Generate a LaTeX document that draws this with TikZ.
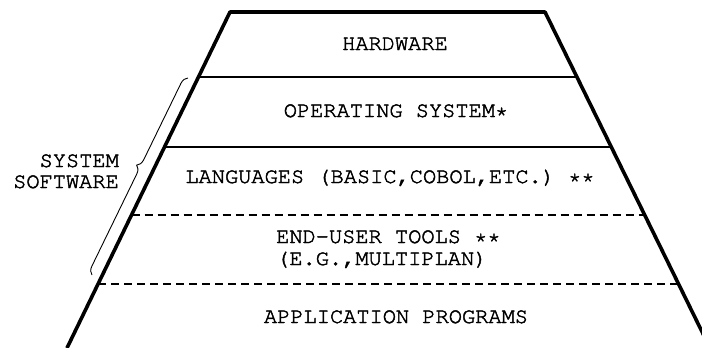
\documentclass[tikz,border=0pt]{standalone}
\usepackage[T1]{fontenc}
\usepackage{courier}
\usetikzlibrary{decorations.pathreplacing,calc}
\newcommand{\heavytext}[1]{\special{pdf:literal direct 2 Tr 0.45 w}#1\special{pdf:literal direct 0 Tr}}
\begin{document}
\begin{tikzpicture}[x=1pt,y=-1pt,
  side/.style={line width=3.6pt, line join=round},
  solidrule/.style={line width=1.1pt},
  dashrule/.style={line width=1.2pt, dash pattern=on 8pt off 5pt},
  lbl/.style={font=\fontsize{22}{23}\selectfont\ttfamily, inner sep=0pt},
  bracestyle/.style={line width=0.9pt, decorate,
    decoration={brace, amplitude=8pt, aspect=0.54}}]
\useasboundingbox (0,0) rectangle (702,348);
% trapezoid corners
\coordinate (TL) at (230,12);
\coordinate (TR) at (545,12);
\coordinate (BL) at (67,348);
\coordinate (BR) at (710,348);
\draw[side] (BL) -- (TL) -- (TR) -- (BR);
% layer boundaries
\coordinate (L1) at ($(TL)!0.1935!(BL)$);
\coordinate (R1) at ($(TR)!0.1935!(BR)$);
\coordinate (L2) at ($(TL)!0.4018!(BL)$);
\coordinate (R2) at ($(TR)!0.4018!(BR)$);
\coordinate (L3) at ($(TL)!0.6042!(BL)$);
\coordinate (R3) at ($(TR)!0.6042!(BR)$);
\coordinate (L4) at ($(TL)!0.8095!(BL)$);
\coordinate (R4) at ($(TR)!0.8095!(BR)$);
\draw[solidrule] (L1) -- (R1);
\draw[solidrule] (L2) -- (R2);
\draw[dashrule] (L3) -- (R3);
\draw[dashrule] (L4) -- (R4);
% labels
\node[lbl, anchor=base] (hw) at (395,50) {\heavytext{HARDWARE}};
\node[lbl, anchor=base] (os) at (396,117) {\heavytext{OPERATING SYSTEM*}};
\node[lbl, anchor=base] (lang) at (390,183) {\heavytext{LANGUAGES (BASIC,COBOL,ETC.) **}};
\node[lbl, anchor=base west] (eu1) at (276,243) {\heavytext{END-USER TOOLS **}};
\node[lbl, anchor=base west] (eu2) at (276,265) {\heavytext{(E.G.,MULTIPLAN)}};
\node[lbl, anchor=base] (app) at (396,323) {\heavytext{APPLICATION PROGRAMS}};
\node[lbl, anchor=base east] (sys1) at (119,167) {\heavytext{SYSTEM}};
\node[lbl, anchor=base east] (sys2) at (119,188) {\heavytext{SOFTWARE}};
% brace
\coordinate (bb) at (92,275);
\coordinate (bt) at (188,78);
\draw[bracestyle] (bb) -- (bt);
\end{tikzpicture}
\end{document}
